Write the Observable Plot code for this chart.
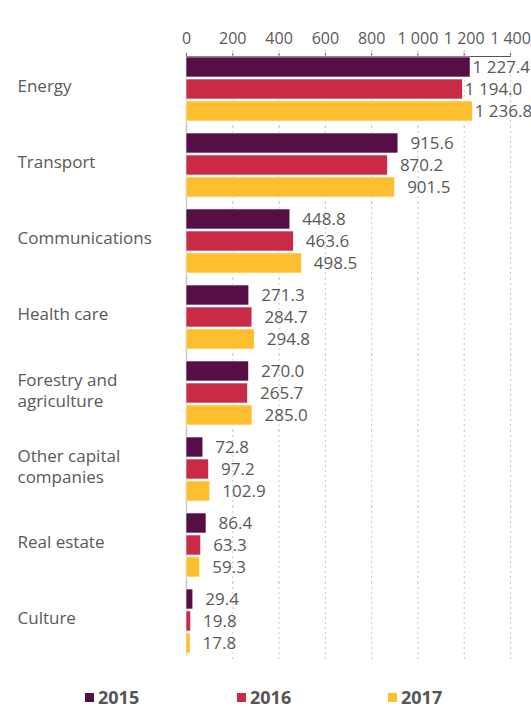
<!DOCTYPE html>
<html><head><meta charset="utf-8">
<script src="https://cdn.jsdelivr.net/npm/d3@7"></script>
<script src="https://cdn.jsdelivr.net/npm/@observablehq/plot@0.6"></script>
<style>
html,body{margin:0;padding:0;background:#fff;overflow:hidden;font-family:"Open Sans",sans-serif}
#legend{position:relative;width:531px;height:39px}
#legend .item{position:absolute;top:16px;width:120px;height:22px;display:flex;align-items:center;white-space:nowrap}
#legend .sw{width:9px;height:9px;margin-right:4px;flex:none}
#legend .lb{font-size:18px;line-height:22px;font-weight:700;color:#555}
</style></head><body><div id="chart"></div><div id="legend"></div>
<script>
const categories = ["Energy","Transport","Communications","Health care","Forestry and agriculture","Other capital companies","Real estate","Culture"];
const categoryLabels = ["Energy","Transport","Communications","Health care","Forestry and\nagriculture","Other capital\ncompanies","Real estate","Culture"];
const years = ["2015","2016","2017"];
const values2015 = [1227.4,915.6,448.8,271.3,270.0,72.8,86.4,29.4];
const values2016 = [1194.0,870.2,463.6,284.7,265.7,97.2,63.3,19.8];
const values2017 = [1236.8,901.5,498.5,294.8,285.0,102.9,59.3,17.8];
const xTicks = [0,200,400,600,800,1000,1200,1400];
const colors = ["#550f45","#c92a45","#fdbf2d"];

const series = [values2015, values2016, values2017];
const data = [];
categories.forEach((c, i) => years.forEach((y, j) => data.push({category: c, year: y, value: series[j][i]})));
const labelRows = categories.map((c, i) => ({category: c, label: categoryLabels[i]}));
const gridRows = [];
categories.forEach(c => xTicks.filter(t => t > 0).forEach(t => gridRows.push({category: c, tick: t})));
const fmt = v => d3.format(",")(v).replace(/,/g, "\u00a0");
const fmt1 = v => d3.format(",.1f")(v).replace(/,/g, "\u00a0");
const textColor = "#595959";

const chart = Plot.plot({
  width: 531,
  height: 670,
  marginTop: 42,
  marginBottom: 1,
  marginLeft: 186,
  marginRight: 21,
  style: {fontFamily: "'Open Sans', sans-serif", color: textColor, background: "#fff", fontSize: "16px"},
  x: {domain: [0, 1400], axis: "top", ticks: xTicks, tickFormat: fmt, tickSize: 4, tickPadding: 9, label: null},
  y: {domain: years, axis: null, paddingInner: 0.1, paddingOuter: 0},
  fy: {domain: categories, axis: null, paddingInner: 0.13, paddingOuter: 0.17},
  color: {domain: years, range: colors},
  marks: [
    Plot.ruleX(gridRows, {fy: "category", x: "tick", stroke: "#c8c8c8", strokeDasharray: "2,3", insetTop: -6, insetBottom: -6}),
    Plot.frame({anchor: "left", stroke: "#c8c8c8", strokeWidth: 1.5, facet: "super"}),
    Plot.frame({anchor: "top", stroke: "#555", facet: "super"}),
    Plot.barX(data, {fy: "category", y: "year", x: "value", fill: "year", stroke: "#fff", strokeWidth: 0.6}),
    Plot.text(data.filter(d => d.value < 1100), {fy: "category", y: "year", x: "value", text: d => fmt1(d.value), textAnchor: "start", dx: 12, fill: textColor, fontSize: 17}),
    Plot.text(data.filter(d => d.value >= 1100), {fy: "category", y: "year", x: "value", text: d => fmt1(d.value), textAnchor: "start", dx: 2, fill: textColor, fontSize: 17}),
    Plot.text(labelRows, {fy: "category", frameAnchor: "left", text: "label", textAnchor: "start", dx: -169, dy: -4, lineHeight: 1.25, fill: textColor, fontSize: 17})
  ]
});
document.getElementById("chart").appendChild(chart);

const legend = document.getElementById("legend");
const legendX = [85, 237, 388];
years.forEach((y, i) => {
  const item = document.createElement("div");
  item.className = "item"; item.style.left = legendX[i] + "px";
  const sw = document.createElement("span");
  sw.className = "sw"; sw.style.background = colors[i];
  const lb = document.createElement("span");
  lb.className = "lb"; lb.textContent = y;
  item.appendChild(sw); item.appendChild(lb);
  legend.appendChild(item);
});
</script></body></html>
